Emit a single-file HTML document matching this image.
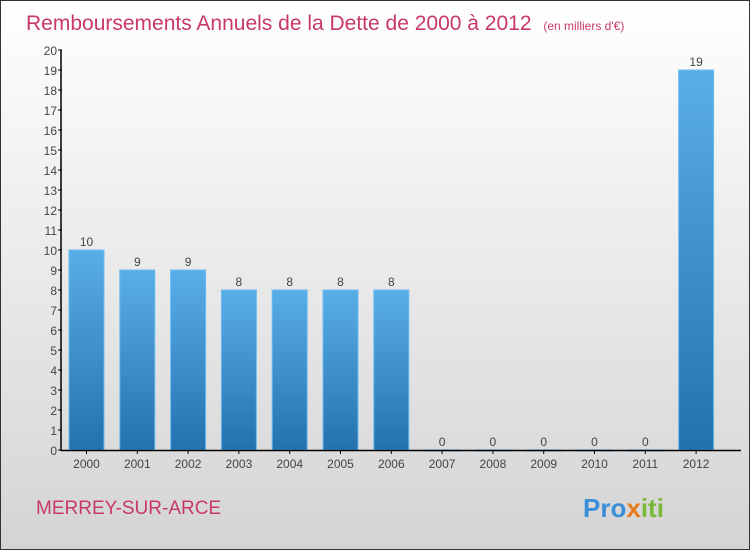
<!DOCTYPE html>
<html><head><meta charset="utf-8"><style>
body{margin:0}
#c{width:748px;height:548px;border:1px solid #333;background:linear-gradient(#ffffff,#d4d4d4);position:relative;font-family:"Liberation Sans",sans-serif;overflow:hidden}
</style></head><body>
<div id="c">
<svg width="748" height="548" id="s">
<defs><linearGradient id="g" x1="0" y1="0" x2="0" y2="1"><stop offset="0" stop-color="#5aaee8"/><stop offset="1" stop-color="#2372ae"/></linearGradient></defs>
<text x="25" y="29" font-size="21" fill="#c8386a">Remboursements Annuels de la Dette de 2000 à 2012 <tspan font-size="12" dx="6">(en milliers d'€)</tspan></text>
<text x="35" y="513" font-size="19" fill="#c8386a">MERREY-SUR-ARCE</text>
<text x="582" y="516" font-size="26" font-weight="bold" fill="#3a8fd8">Pro<tspan fill="#e87a1a">x</tspan><tspan fill="#7ab83a">iti</tspan></text>
<g id="plot"></g>
</svg></div>
<script>
const years=["2000","2001","2002","2003","2004","2005","2006","2007","2008","2009","2010","2011","2012"];
const values=[10,9,9,8,8,8,8,0,0,0,0,0,19];
const yTicks=[0,1,2,3,4,5,6,7,8,9,10,11,12,13,14,15,16,17,18,19,20];
const NS="http://www.w3.org/2000/svg";
const p=document.getElementById('plot');
const y=v=>449-v*20, x=i=>85.5+i*50.8;
function el(t,a){const e=document.createElementNS(NS,t);for(const k in a)e.setAttribute(k,a[k]);p.appendChild(e);return e;}
values.forEach((v,i)=>{
 const r=el('rect',{x:x(i)-17.5,y:y(v),width:35,height:Math.max(v*20,1),fill:'url(#g)',stroke:'#6cbcf0','stroke-width':1});
 
 
 const t=el('text',{x:x(i),y:y(v)-4,'font-size':12,'text-anchor':'middle',fill:'#444'});t.textContent=v;
 
 
 const l=el('text',{x:x(i),y:467,'font-size':12,'text-anchor':'middle',fill:'#444'});l.textContent=years[i];
 
 
 el('line',{x1:x(i),x2:x(i),y1:449,y2:453,stroke:'#000'});
});
yTicks.forEach(v=>{
 el('line',{x1:57,x2:61,y1:y(v),y2:y(v),stroke:'#000'});
 const t=el('text',{x:56,y:y(v)+5,'font-size':12,'text-anchor':'end',fill:'#444'});t.textContent=v;
 
 
});
const ya=el('line',{x1:60,x2:60,y1:49,y2:450,stroke:'#000','stroke-width':1.5});


const xa=el('line',{x1:60,x2:740,y1:449.5,y2:449.5,stroke:'#000','stroke-width':1.5});


</script>
</body></html>
